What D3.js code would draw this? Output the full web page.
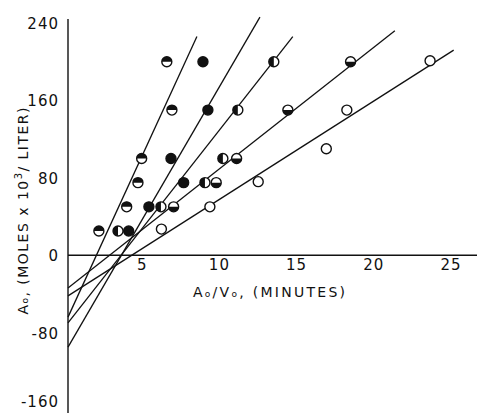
<!DOCTYPE html>
<html>
<head>
<meta charset="utf-8">
<script src="https://cdn.jsdelivr.net/npm/d3@7"></script>
<style>
  body { margin: 0; background: #fff; }
  text { font-family: "DejaVu Sans", sans-serif; fill: #111; }
</style>
</head>
<body>
<div id="chart"></div>
<script>
// tick labels
const xTicks = [5, 10, 15, 20, 25];
const yTicks = [240, 160, 80, 0, -80, -160];

// A0/V0 (minutes) vs A0 (moles x 10^3 / liter), one list per series
const seriesA = [[2.0, 25], [3.8, 50], [4.53, 75], [4.77, 100], [6.73, 150], [6.4, 200]];
const seriesB = [[3.93, 25], [5.24, 50], [7.49, 75], [6.67, 100], [9.06, 150], [8.74, 200]];
const seriesC = [[3.24, 25], [6.02, 50], [8.87, 75], [10.03, 100], [11.0, 150], [13.33, 200]];
const seriesD = [[6.84, 50], [9.6, 75], [10.92, 100], [14.24, 150], [18.3, 200]];
const seriesE = [[6.05, 27], [9.19, 50], [12.32, 76], [16.73, 110], [18.06, 150], [23.45, 201]];
const markerKind = ["top", "full", "left", "bottom", "open"];

// fitted straight lines: value at x = 0 and the far end point
const lineIntercept = [-64, -95, -70, -34, -42];
const lineEndX = [8.35, 12.43, 14.56, 21.17, 24.98];
const lineEndY = [226, 246, 226, 232, 212];

const width = 478, height = 413;

const svg = d3.select("#chart").append("svg")
    .attr("width", width)
    .attr("height", height);

const x = d3.scaleLinear().domain([0, 25]).range([68, 454]);
const y = d3.scaleLinear().domain([-160, 240]).range([410, 23]);

// axes: plain lines, no tick marks
svg.append("line")
    .attr("x1", x(0)).attr("x2", x(0))
    .attr("y1", 19).attr("y2", height)
    .attr("stroke", "#111").attr("stroke-width", 1.4);

svg.append("line")
    .attr("x1", x(0)).attr("x2", 477)
    .attr("y1", y(0)).attr("y2", y(0))
    .attr("stroke", "#111").attr("stroke-width", 1.6);

svg.selectAll("text.ytick").data(yTicks)
    .enter().append("text")
    .attr("class", "ytick")
    .attr("x", 59)
    .attr("y", d => Math.min(y(d) + 6, height - 6)) // keep the bottom label inside
    .attr("text-anchor", "end")
    .attr("font-size", 15)
    .attr("letter-spacing", 1)
    .text(d => d);

svg.selectAll("text.xtick").data(xTicks)
    .enter().append("text")
    .attr("class", "xtick")
    .attr("x", d => x(d) - 3)
    .attr("y", y(0) + 15)
    .attr("text-anchor", "middle")
    .attr("font-size", 15)
    .attr("letter-spacing", 1)
    .text(d => d);

// axis titles
const xTitle = svg.append("text")
    .attr("x", 193)
    .attr("y", 297)
    .attr("font-size", 14)
    .attr("textLength", 152);
xTitle.append("tspan").text("A");
xTitle.append("tspan").attr("font-size", 9).text("o");
xTitle.append("tspan").text("/V");
xTitle.append("tspan").attr("font-size", 9).text("o");
xTitle.append("tspan").text(", (MINUTES)");

const yTitle = svg.append("text")
    .attr("transform", "translate(28,211) rotate(-90)")
    .attr("text-anchor", "middle")
    .attr("font-size", 14)
    .attr("textLength", 207);
yTitle.append("tspan").text("A");
yTitle.append("tspan").attr("font-size", 9).text("o");
yTitle.append("tspan").text(", (MOLES x 10");
yTitle.append("tspan").attr("font-size", 10).attr("dy", -6).text("3");
yTitle.append("tspan").attr("dy", 6).text("/ LITER)");

// fitted lines
svg.selectAll("line.fit").data(lineIntercept)
    .enter().append("line")
    .attr("class", "fit")
    .attr("x1", x(0))
    .attr("y1", d => y(d))
    .attr("x2", (d, i) => x(lineEndX[i]))
    .attr("y2", (d, i) => y(lineEndY[i]))
    .attr("stroke", "#111")
    .attr("stroke-width", 1.3);

// markers
const r = 5;
const halfPath = {
    top: `M${-r},0 A${r},${r} 0 0 1 ${r},0 Z`,
    bottom: `M${-r},0 A${r},${r} 0 0 0 ${r},0 Z`,
    left: `M0,${-r} A${r},${r} 0 0 0 0,${r} Z`
};

[seriesA, seriesB, seriesC, seriesD, seriesE].forEach((pts, i) => {
    const kind = markerKind[i];
    const g = svg.selectAll("g.pt" + i).data(pts)
        .enter().append("g")
        .attr("class", "pt" + i)
        .attr("transform", d => "translate(" + x(d[0]) + "," + y(d[1]) + ")");

    g.append("circle")
        .attr("r", r)
        .attr("fill", kind === "full" ? "#111" : "#fff")
        .attr("stroke", "#111")
        .attr("stroke-width", 1.4);

    if (halfPath[kind]) {
        g.append("path")
            .attr("d", halfPath[kind])
            .attr("fill", "#111");
    }
});
</script>
</body>
</html>
